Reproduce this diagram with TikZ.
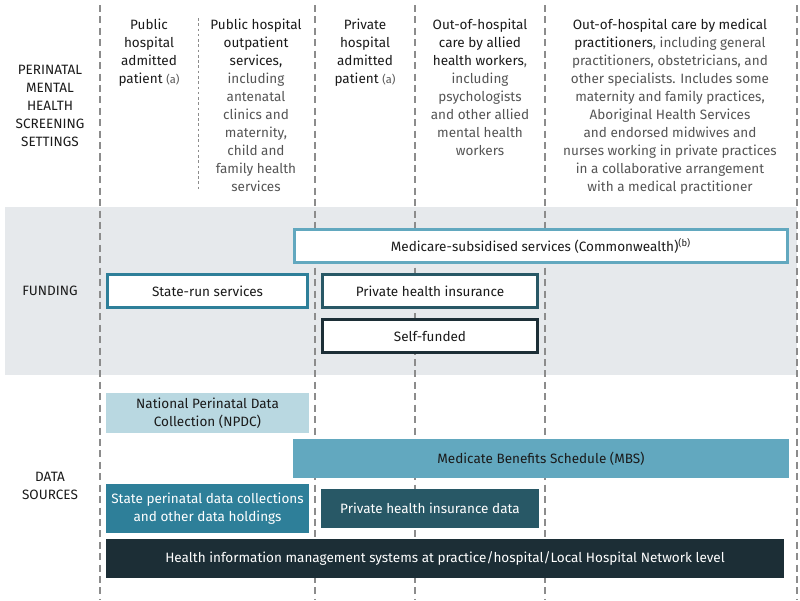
\documentclass[tikz,border=0pt]{standalone}
\usepackage{fontspec}
\setmainfont{Fira Sans}
\definecolor{bandgrey}{HTML}{E6E9EC}
\definecolor{lineg}{HTML}{8C8C8C}
\definecolor{paleblue}{HTML}{B9D8E1}
\definecolor{midblue}{HTML}{62A8BF}
\definecolor{deepblue}{HTML}{2E7F99}
\definecolor{slateblue}{HTML}{285866}
\definecolor{nightblue}{HTML}{1C2E36}
\definecolor{textdark}{HTML}{1A1A1A}
\definecolor{textgrey}{HTML}{555555}
\usetikzlibrary{positioning}
\newcommand{\smallnote}[1]{{\fontsize{6.3}{10}\selectfont\color{textgrey}#1}}

\tikzset{
  colline/.style={lineg, line width=1.1pt, dash pattern=on 4pt off 2.5pt},
  subline/.style={lineg, line width=0.4pt, dash pattern=on 1.5pt off 1.5pt},
  heading/.style={align=center, anchor=north, inner sep=0pt, text=textdark, font=\fontsize{7.7}{10.25}\selectfont},
  rowlabel/.style={align=center, inner sep=0pt, text=textdark, font=\fontsize{7.7}{10.25}\selectfont},
  fundbox/.style={draw, fill=white, line width=1.7pt, inner sep=0pt, text=textdark, font=\fontsize{7.7}{10.25}\selectfont},
  databox/.style={inner sep=0pt, align=center, font=\fontsize{7.7}{10.25}\selectfont},
}

\begin{document}
\begin{tikzpicture}[x=0.02cm, y=-0.02cm]
  \useasboundingbox (0,0) rectangle (800,600);

    % funding band
    \fill[bandgrey] (5,207) rectangle (797,375);

    % column separators
    \draw[colline] (100,5) -- (100,600);
    \draw[colline] (315,5) -- (315,600);
    \draw[colline] (415,5) -- (415,600);
    \draw[colline] (545,5) -- (545,600);
    \draw[colline] (797,5) -- (797,600);
    \draw[subline] (198,18) -- (198,190);

    % row labels
    \node[rowlabel] (lsettings) at (50,106) {PERINATAL\\MENTAL\\HEALTH\\SCREENING\\SETTINGS};
    \node[rowlabel] (lfunding) at (50,291) {FUNDING};
    \node[rowlabel] (lsources) at (50,486) {DATA\\SOURCES};

    % setting headings
    \node[heading] (hpubadm) at (149,19) {Public\\hospital\\admitted\\patient \smallnote{(a)}};
    \node[heading] (hpubout) at (256,19) {Public hospital\\outpatient\\services,\\
      \color{textgrey}including\\\color{textgrey}antenatal\\\color{textgrey}clinics and\\\color{textgrey}maternity,\\
      \color{textgrey}child and\\\color{textgrey}family health\\\color{textgrey}services};
    \node[heading] (hprivadm) at (365,19) {Private\\hospital\\admitted\\patient \smallnote{(a)}};
    \node[heading] (hallied) at (480,19) {Out-of-hospital\\care by allied\\health workers{\color{textgrey},}\\
      \color{textgrey}including\\\color{textgrey}psychologists\\\color{textgrey}and other allied\\
      \color{textgrey}mental health\\\color{textgrey}workers};
    \node[heading] (hmedical) at (670,19) {Out-of-hospital care by medical\\practitioners{\color{textgrey}, including general}\\
      \color{textgrey}practitioners, obstetricians, and\\\color{textgrey}other specialists. Includes some\\
      \color{textgrey}maternity and family practices,\\\color{textgrey}Aboriginal Health Services\\
      \color{textgrey}and endorsed midwives and\\\color{textgrey}nurses working in private practices\\
      \color{textgrey}in a collaborative arrangement\\\color{textgrey}with a medical practitioner};

    % funding
    \node[fundbox, draw=midblue, minimum width=9.86cm, minimum height=0.66cm] (medicare) at (541,246)
      {Medicare-subsidised services (Commonwealth)\textsuperscript{(b)}};
    \node[fundbox, draw=deepblue, minimum width=4cm, minimum height=0.66cm] (staterun) at (207.5,291) {State-run services};
    \node[fundbox, draw=slateblue, minimum width=4.3cm, minimum height=0.66cm] (privins) at (430,291) {Private health insurance};
    \node[fundbox, draw=nightblue, minimum width=4.3cm, minimum height=0.66cm] (selffund) at (430,336) {Self-funded};

    % data sources
    \node[databox, fill=paleblue, text=textdark, minimum width=4.06cm, minimum height=0.8cm] (npdc) at (207.5,413)
      {National Perinatal Data\\Collection (NPDC)};
    \node[databox, fill=midblue, text=textdark, minimum width=9.92cm, minimum height=0.78cm] (mbs) at (541,458.5)
      {Medicate Benefits Schedule (MBS)};
    \node[databox, fill=deepblue, text=white, minimum width=4.06cm, minimum height=0.98cm] (statedata) at (207.5,508.5)
      {State perinatal data collections\\and other data holdings};
    \node[databox, fill=slateblue, text=white, minimum width=4.36cm, minimum height=0.78cm] (privdata) at (430,508.5)
      {Private health insurance data};
    \node[databox, fill=nightblue, text=white, minimum width=13.56cm, minimum height=0.78cm] (hims) at (445,558.5)
      {Health information management systems at practice/hospital/Local Hospital Network level};

\end{tikzpicture}
\end{document}
